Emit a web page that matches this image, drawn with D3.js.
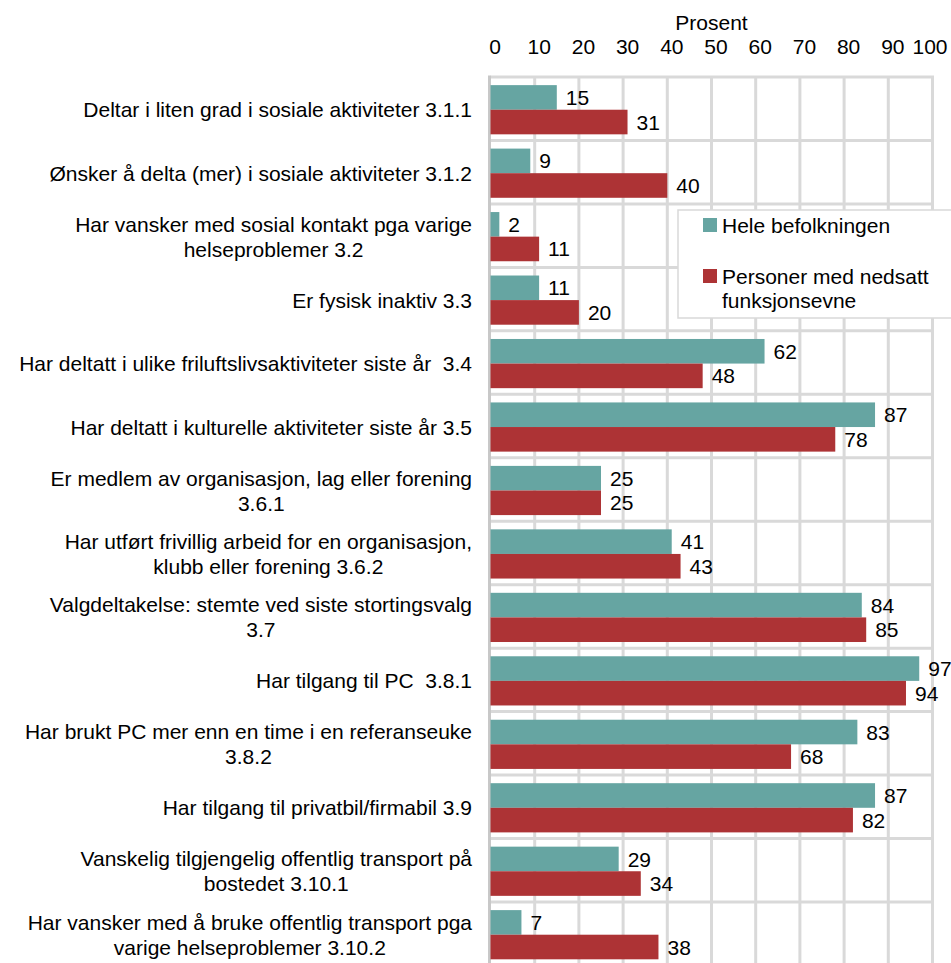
<!DOCTYPE html>
<html lang="no">
<head>
    <meta charset="UTF-8">
    <script src="https://d3js.org/d3.v7.min.js"></script>
    <title>Prosent</title>
    <style>
        html, body {
            margin: 0;
            padding: 0;
            background: white;
            overflow: hidden;
        }
        text {
            font-family: "Liberation Sans", Arial, sans-serif;
            font-size: 21px;
            fill: #000;
            white-space: pre;
        }
    </style>
</head>
<body>
    <script>
        // category labels (lines split where the chart wraps them)
        const categories = [
            ["Deltar i liten grad i sosiale aktiviteter 3.1.1"],
            ["Ønsker å delta (mer) i sosiale aktiviteter 3.1.2"],
            ["Har vansker med sosial kontakt pga varige", "helseproblemer 3.2"],
            ["Er fysisk inaktiv 3.3"],
            ["Har deltatt i ulike friluftslivsaktiviteter siste år  3.4"],
            ["Har deltatt i kulturelle aktiviteter siste år 3.5"],
            ["Er medlem av organisasjon, lag eller forening", "3.6.1"],
            ["Har utført frivillig arbeid for en organisasjon,", "klubb eller forening 3.6.2"],
            ["Valgdeltakelse: stemte ved siste stortingsvalg", "3.7"],
            ["Har tilgang til PC  3.8.1"],
            ["Har brukt PC mer enn en time i en referanseuke", "3.8.2"],
            ["Har tilgang til privatbil/firmabil 3.9"],
            ["Vanskelig tilgjengelig offentlig transport på", "bostedet 3.10.1"],
            ["Har vansker med å bruke offentlig transport pga", "varige helseproblemer 3.10.2"]
        ];
        const seriesNames = [["Hele befolkningen"], ["Personer med nedsatt", "funksjonsevne"]];
        const heleBefolkningen = [15, 9, 2, 11, 62, 87, 25, 41, 84, 97, 83, 87, 29, 7];
        const nedsattFunksjonsevne = [31, 40, 11, 20, 48, 78, 25, 43, 85, 94, 68, 82, 34, 38];
        const xTicks = [0, 10, 20, 30, 40, 50, 60, 70, 80, 90, 100];
        const colors = ["#66a5a2", "#ad3335"];

        const W = 951, H = 963;
        const plotLeft = 490.5, plotRight = 932.5, plotTop = 77, band = 63.46;
        const labelRight = 472;

        const svg = d3.select("body").append("svg")
            .attr("width", W)
            .attr("height", H);

        const idx = d3.range(categories.length);

        const x = d3.scaleLinear().domain([0, 100]).range([plotLeft, plotRight]);
        const y = d3.scaleBand().domain(idx).range([plotTop, plotTop + band * categories.length]);
        const ySub = d3.scaleBand().domain([0, 1]).range([0, y.bandwidth()]).paddingOuter(0.29);

        // grid
        const grid = svg.append("g");
        grid.selectAll(".v").data(xTicks.slice(1)).join("line")
            .attr("x1", d => x(d)).attr("x2", d => x(d))
            .attr("y1", plotTop).attr("y2", H + 20)
            .attr("stroke", "#d9d9d9").attr("stroke-width", 3);
        grid.selectAll(".h").data(idx.concat([categories.length])).join("line")
            .attr("x1", plotLeft).attr("x2", plotRight + 1.5)
            .attr("y1", d => plotTop + d * band).attr("y2", d => plotTop + d * band)
            .attr("stroke", "#d9d9d9").attr("stroke-width", 3);
        grid.append("line")
            .attr("x1", plotLeft - 1).attr("x2", plotLeft - 1)
            .attr("y1", plotTop - 1.5).attr("y2", H + 20)
            .attr("stroke", "#c8c8c8").attr("stroke-width", 3);

        // top axis
        const axis = svg.append("g")
            .attr("transform", "translate(4,0)")
            .call(d3.axisTop(x).tickValues(xTicks).tickSize(0).tickPadding(0));
        axis.select(".domain").remove();
        axis.selectAll("text")
            .attr("y", 54).attr("dy", null)
            .style("font-size", "21px")
            .style("font-family", "'Liberation Sans', Arial, sans-serif")
            .attr("fill", "#000");
        axis.selectAll(".tick").filter(d => d === 100).select("text")
            .attr("text-anchor", "end").attr("x", 947 - x(100) - 4);

        svg.append("text")
            .attr("x", (plotLeft + plotRight) / 2)
            .attr("y", 30)
            .attr("text-anchor", "middle")
            .text("Prosent");

        // bars
        const rows = idx.map(i => [heleBefolkningen[i], nedsattFunksjonsevne[i]]);
        const groups = svg.selectAll(".cat").data(rows).join("g")
            .attr("transform", (d, i) => `translate(0,${y(i) + 1})`);

        groups.selectAll("rect").data(d => d).join("rect")
            .attr("x", x(0))
            .attr("y", (d, j) => ySub(j))
            .attr("width", d => x(d) - x(0))
            .attr("height", ySub.bandwidth())
            .attr("fill", (d, j) => colors[j]);

        groups.selectAll(".val").data(d => d).join("text")
            .attr("class", "val")
            .attr("x", d => x(d) + 9)
            .attr("y", (d, j) => ySub(j) + ySub.bandwidth() / 2)
            .attr("dy", "0.36em")
            .text(d => d);

        // category labels: one line right-aligned, wrapped lines centred in a right-aligned block
        const labels = svg.selectAll(".lab").data(categories).join("text")
            .attr("class", "lab")
            .attr("text-anchor", "middle")
            .attr("transform", (d, i) => `translate(0,${y(i) + band / 2 + 1})`);
        labels.selectAll("tspan").data(d => d.map((t, k) => ({ t, k, n: d.length }))).join("tspan")
            .attr("y", d => (d.k - (d.n - 1) / 2) * 25)
            .attr("dy", "0.36em")
            .text(d => d.t);
        labels.each(function () {
            const spans = d3.select(this).selectAll("tspan");
            let maxW = 0;
            spans.each(function () { maxW = Math.max(maxW, this.getComputedTextLength()); });
            spans.attr("x", labelRight - maxW / 2);
        });

        // legend
        const legend = svg.append("g").attr("transform", "translate(678,210)");
        legend.append("rect")
            .attr("x", 0).attr("y", 0)
            .attr("width", 290).attr("height", 108)
            .attr("fill", "#fff")
            .attr("stroke", "#d9d9d9").attr("stroke-width", 1.5);
        const legendY = [15, 66];
        seriesNames.forEach((name, i) => {
            legend.append("rect")
                .attr("x", 25).attr("y", legendY[i] - 7)
                .attr("width", 14).attr("height", 14)
                .attr("fill", colors[i]);
            name.forEach((t, k) => {
                legend.append("text")
                    .attr("x", 44)
                    .attr("y", legendY[i] + k * 24)
                    .attr("dy", "0.36em")
                    .text(t);
            });
        });
    </script>
</body>
</html>
